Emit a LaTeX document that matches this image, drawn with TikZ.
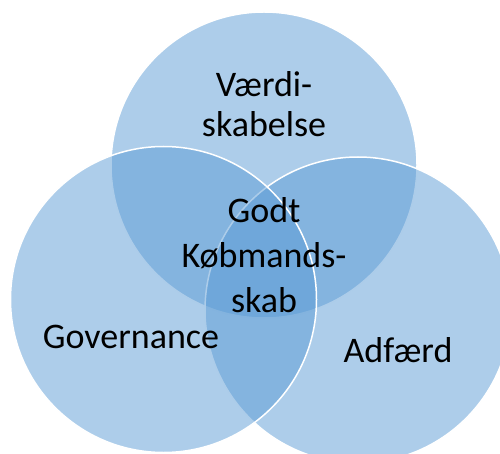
\documentclass[tikz,border=0pt]{standalone}
\usepackage{fontspec}
\setmainfont{Carlito}
\definecolor{vennblue}{HTML}{5B9BD5}

\begin{document}
\begin{tikzpicture}[x=1pt, y=-1pt, venn/.style={circle, minimum size=306pt, inner sep=0pt, fill=vennblue, fill opacity=0.5, draw=white, line width=1.5pt}, label/.style={font=\fontsize{36}{40}\selectfont, align=center, anchor=base, inner sep=0pt}]
        \useasboundingbox (0,0) rectangle (500,454);

        \node[venn] (vaerdi) at (264,165) {};
        \node[venn] (adfaerd) at (358,310) {};
        \node[venn] (gov) at (163.5,299.5) {};

        % base anchor sits on the last line
        \node[label] (vaerditxt) at (264,136.7) {Værdi-\\skabelse};
        \node[label, font=\fontsize{36}{45}\selectfont] (godt) at (264,312) {Godt\\Købmands-\\skab};
        \node[label] (govtxt) at (131,348) {Governance};
        \node[label] (adfaerdtxt) at (398,362) {Adfærd};

    \end{tikzpicture}
\end{document}
